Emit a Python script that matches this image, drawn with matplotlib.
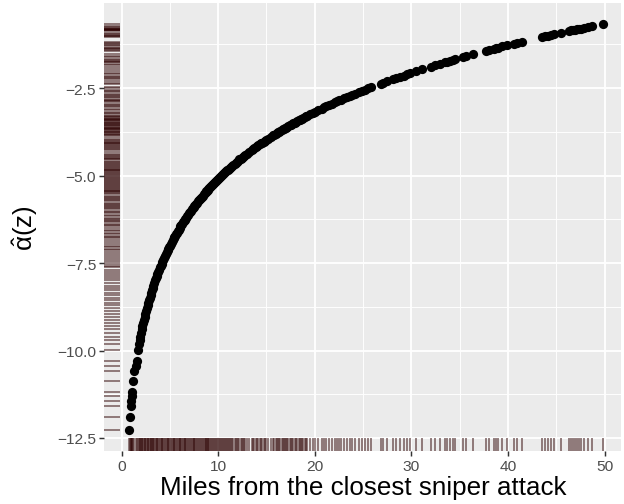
import matplotlib
matplotlib.use("Agg")
import matplotlib.pyplot as plt

plt.rcParams['font.family'] = ['Liberation Sans', 'DejaVu Sans']
plt.rcParams['mathtext.fontset'] = 'custom'
plt.rcParams['mathtext.rm'] = 'Liberation Sans'
plt.rcParams['mathtext.it'] = 'Liberation Sans'

miles = [0.75, 0.85, 0.95, 0.98, 1.05, 1.12, 1.22, 1.32, 1.47, 1.57, 1.74,
         1.80, 1.95, 2.10, 2.25, 2.40, 2.55, 2.70, 2.85, 3.00, 3.15, 3.30,
         3.50, 3.65, 3.80, 4.00, 4.15, 4.30, 4.50, 4.70, 4.85, 5.00, 5.20,
         5.40, 5.55, 5.70, 5.90, 6.10, 6.30, 6.45, 6.60, 6.80, 7.00, 7.20,
         7.40, 7.55, 7.70, 7.90, 8.10, 8.30, 8.50, 8.70, 8.85, 9.00, 9.20,
         9.40, 9.60, 9.80, 10.0, 10.2, 10.4, 10.6, 10.8, 11.0, 11.2, 11.45,
         11.7, 11.95, 12.2, 12.45, 12.7, 12.95, 13.5, 13.75, 14.0, 14.3,
         14.55, 14.85, 15.15, 15.7, 15.95, 16.2, 16.45, 16.7, 16.9, 17.15,
         17.4, 17.65, 17.9, 18.2, 18.45, 18.7, 18.95, 19.2, 19.55, 19.8,
         20.05, 20.7, 20.95, 21.2, 21.45, 21.75, 22.05, 22.3, 22.75, 23.35,
         23.6, 23.9, 24.2, 24.6, 24.9, 25.2, 25.5, 25.8, 26.8, 27.1, 27.45,
         28.1, 28.35, 28.85, 29.2, 29.55, 29.9, 30.5, 31.1, 32.0, 32.4,
         33.0, 33.45, 34.0, 34.5, 35.3, 35.6, 36.35, 37.7, 38.0, 38.5, 39.0,
         39.4, 39.9, 40.6, 40.95, 41.45, 43.55, 43.85, 44.15, 44.45, 44.75,
         45.45, 46.3, 46.7, 47.1, 47.5, 47.85, 48.3, 48.7, 49.8]

alpha_hat = [-12.27, -11.89, -11.58, -11.45, -11.29, -11.19, -10.88, -10.59,
             -10.43, -10.31, -9.97, -9.82, -9.60, -9.39, -9.20, -9.03, -8.86,
             -8.70, -8.55, -8.41, -8.28, -8.15, -7.99, -7.87, -7.76, -7.62,
             -7.52, -7.42, -7.29, -7.17, -7.09, -7.00, -6.89, -6.79, -6.72,
             -6.64, -6.55, -6.45, -6.37, -6.30, -6.24, -6.16, -6.08, -6.00,
             -5.92, -5.87, -5.81, -5.74, -5.67, -5.61, -5.54, -5.48, -5.43,
             -5.38, -5.32, -5.26, -5.20, -5.15, -5.09, -5.04, -4.98, -4.93,
             -4.88, -4.83, -4.78, -4.72, -4.66, -4.60, -4.54, -4.49, -4.43,
             -4.38, -4.26, -4.21, -4.16, -4.11, -4.06, -4.00, -3.95, -3.85,
             -3.80, -3.76, -3.72, -3.68, -3.65, -3.60, -3.56, -3.53, -3.49,
             -3.44, -3.40, -3.37, -3.33, -3.29, -3.24, -3.21, -3.17, -3.09,
             -3.05, -3.02, -2.99, -2.95, -2.91, -2.88, -2.83, -2.75, -2.72,
             -2.69, -2.66, -2.61, -2.58, -2.54, -2.51, -2.48, -2.37, -2.34,
             -2.31, -2.24, -2.22, -2.17, -2.14, -2.10, -2.07, -2.02, -1.96,
             -1.89, -1.85, -1.80, -1.76, -1.72, -1.68, -1.61, -1.59, -1.53,
             -1.43, -1.41, -1.38, -1.34, -1.31, -1.28, -1.23, -1.20, -1.17,
             -1.04, -1.02, -1.00, -0.98, -0.96, -0.92, -0.87, -0.84, -0.82,
             -0.80, -0.78, -0.75, -0.73, -0.67]

# second batch of observations, mostly in the dense stretch
miles_b = [1.87, 2.02, 2.17, 2.32, 2.47, 2.62, 2.77, 2.92, 3.07, 3.22, 3.40,
           3.57, 3.72, 3.90, 4.07, 4.22, 4.40, 4.60, 4.77, 4.92, 5.10, 5.30,
           5.47, 5.62, 5.80, 6.00, 6.20, 6.37, 6.52, 6.70, 6.90, 7.10, 7.30,
           7.47, 7.62, 7.80, 8.00, 8.20, 8.40, 8.60, 8.77, 8.92, 9.10, 9.30,
           9.50, 9.70, 9.90, 10.1, 10.3, 10.5, 10.7, 10.9, 11.1, 11.32, 11.57,
           11.82, 12.07, 12.32, 12.57, 12.82, 13.2, 13.62, 13.87, 14.15,
           14.42, 14.7, 15.0, 15.45, 15.82, 16.07, 16.32, 16.57, 16.8, 17.02,
           17.27, 17.52, 17.77, 18.05, 18.32, 18.57, 18.82, 19.07, 20.35,
           22.55, 23.05, 33.7, 34.25, 38.75, 46.5, 46.9, 47.3]

alpha_hat_b = [-9.71, -9.50, -9.30, -9.12, -8.95, -8.78, -8.63, -8.49, -8.35,
               -8.22, -8.07, -7.93, -7.82, -7.69, -7.57, -7.47, -7.36, -7.23,
               -7.13, -7.05, -6.95, -6.84, -6.76, -6.68, -6.59, -6.50, -6.41,
               -6.34, -6.27, -6.20, -6.12, -6.04, -5.96, -5.90, -5.84, -5.78,
               -5.71, -5.64, -5.57, -5.51, -5.45, -5.41, -5.35, -5.29, -5.23,
               -5.18, -5.12, -5.06, -5.01, -4.96, -4.91, -4.85, -4.80, -4.75,
               -4.69, -4.63, -4.57, -4.52, -4.46, -4.41, -4.33, -4.24, -4.19,
               -4.13, -4.08, -4.03, -3.97, -3.89, -3.83, -3.78, -3.74, -3.70,
               -3.66, -3.63, -3.59, -3.55, -3.51, -3.46, -3.42, -3.39, -3.35,
               -3.31, -3.13, -2.85, -2.79, -1.74, -1.70, -1.36, -0.85, -0.83,
               -0.81]

xticks = [0, 10, 20, 30, 40, 50]
xminor = [5, 15, 25, 35, 45]
yticks = [-12.5, -10.0, -7.5, -5.0, -2.5]
yminor = [-11.25, -8.75, -6.25, -3.75, -1.25]

all_x = miles + miles_b
all_y = alpha_hat + alpha_hat_b

fig = plt.figure(figsize=(6.5, 5.26), dpi=96)
ax = fig.add_axes([0.1667, 0.105, 0.828, 0.887])
ax.set_facecolor('#EBEBEB')
for s in ax.spines.values():
    s.set_visible(False)

for v in xminor:
    ax.axvline(v, color='white', lw=0.71, zorder=0)
for v in yminor:
    ax.axhline(v, color='white', lw=0.71, zorder=0)
for v in xticks:
    ax.axvline(v, color='white', lw=1.42, zorder=0)
for v in yticks:
    ax.axhline(v, color='white', lw=1.42, zorder=0)

ax.scatter(all_x, all_y, s=48, color='black', linewidths=0, zorder=3)

rug_col = '#2b0000'
ax.vlines(all_x, 0, 0.03, transform=ax.get_xaxis_transform(),
          color=rug_col, alpha=0.5, lw=1.42, zorder=2)
ax.hlines(all_y, 0, 0.03, transform=ax.get_yaxis_transform(),
          color=rug_col, alpha=0.5, lw=1.42, zorder=2)

ax.set_xlim(-1.81, 51.65)
ax.set_ylim(-12.87, -0.07)
ax.set_xticks(xticks)
ax.set_yticks(yticks)
ax.set_xticklabels([str(t) for t in xticks])
ax.set_yticklabels(['\u2212' + f'{abs(t):.1f}' for t in yticks])
ax.tick_params(length=3.7, width=1.1, color='#333333', labelcolor='#4D4D4D',
               labelsize=11.6, pad=2.2)

ax.set_xlabel('Miles from the closest sniper attack', fontsize=19.5)
ax.xaxis.label.set_va('center')
ax.xaxis.set_label_coords(0.502, -0.080)
ax.set_ylabel(r'$\hat{\alpha}(z)$', fontsize=19.5)
ax.yaxis.label.set_va('center')
ax.yaxis.set_label_coords(-0.152, 0.5)

fig.savefig('out.png', dpi=96)
